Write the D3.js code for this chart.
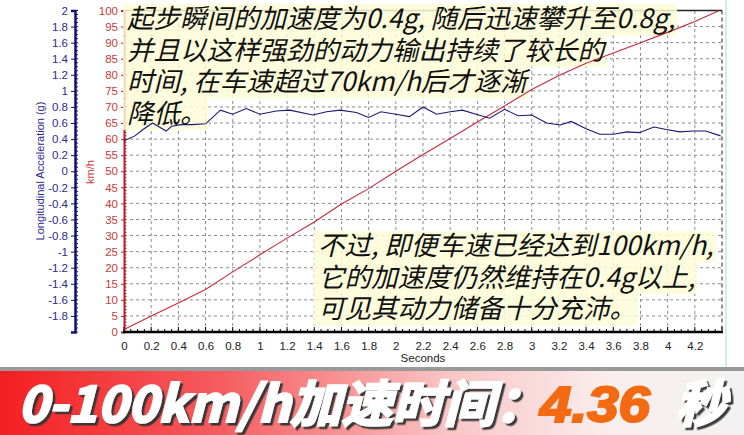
<!DOCTYPE html>
<html>
<head>
<meta charset="utf-8">
<script src="https://cdn.jsdelivr.net/npm/d3@7"></script>
<style>
body { margin: 0; background: #fff; }
svg { display: block; }
</style>
</head>
<body>
<script>
var width = 744;
var height = 435;

// speed trace (km/h)
var speedTime = [0, 0.2, 0.4, 0.6, 0.8, 1.0, 1.2, 1.4, 1.6, 1.8, 2.0, 2.2, 2.4, 2.6, 2.8, 3.0, 3.2, 3.4, 3.6, 3.8, 4.0, 4.2, 4.38];
var speedKmh = [0.8, 5, 9, 13.2, 18.7, 24, 29.2, 34.2, 39.8, 44.6, 50, 55.2, 60.2, 65.3, 70.3, 75.4, 79.8, 83.6, 86.8, 90, 93.2, 96.6, 100];

// longitudinal acceleration trace (g)
var accTime = [0, 0.08, 0.14, 0.21, 0.26, 0.31, 0.35, 0.42, 0.5, 0.6, 0.71, 0.8, 0.9, 1.0, 1.12, 1.22, 1.39, 1.49, 1.59, 1.71, 1.8, 1.89, 2.0, 2.1, 2.2, 2.3, 2.4, 2.49, 2.59, 2.69, 2.8, 2.9, 3.0, 3.11, 3.21, 3.29, 3.4, 3.5, 3.6, 3.7, 3.79, 3.9, 3.99, 4.09, 4.19, 4.28, 4.39];
var accG = [0.38, 0.44, 0.52, 0.6, 0.55, 0.5, 0.56, 0.58, 0.58, 0.59, 0.76, 0.71, 0.78, 0.71, 0.75, 0.76, 0.7, 0.74, 0.76, 0.73, 0.67, 0.74, 0.71, 0.68, 0.8, 0.71, 0.74, 0.76, 0.71, 0.66, 0.77, 0.69, 0.7, 0.6, 0.575, 0.62, 0.53, 0.46, 0.46, 0.49, 0.48, 0.55, 0.52, 0.49, 0.5, 0.5, 0.44];

var timeTicks = [0, 0.2, 0.4, 0.6, 0.8, 1, 1.2, 1.4, 1.6, 1.8, 2, 2.2, 2.4, 2.6, 2.8, 3, 3.2, 3.4, 3.6, 3.8, 4, 4.2];
var speedTicks = [0, 5, 10, 15, 20, 25, 30, 35, 40, 45, 50, 55, 60, 65, 70, 75, 80, 85, 90, 95, 100];
var accTicks = [-1.8, -1.6, -1.4, -1.2, -1, -0.8, -0.6, -0.4, -0.2, 0, 0.2, 0.4, 0.6, 0.8, 1, 1.2, 1.4, 1.6, 1.8, 2];

var noteTop = ["起步瞬间的加速度为0.4g, 随后迅速攀升至0.8g,", "并且以这样强劲的动力输出持续了较长的", "时间, 在车速超过70km/h后才逐渐", "降低。"];
var noteBottom = ["不过, 即便车速已经达到100km/h,", "它的加速度仍然维持在0.4g以上,", "可见其动力储备十分充沛。"];

var bannerText = "0-100km/h加速时间：";
var bannerTime = "4.36";
var bannerUnit = "秒";

var canvas = d3.select("body")
    .append("svg")
    .attr("width", width)
    .attr("height", height);

var defs = canvas.append("defs");

var x = d3.scaleLinear().domain([0, 4.4]).range([124, 722]);
var ySpeed = d3.scaleLinear().domain([0, 100]).range([332, 10.5]);
var yAcc = d3.scaleLinear().domain([-2, 2]).range([332, 10.5]);

var fmt = function(d) { return String(+d.toFixed(1)); };

// grid
canvas.append("g").selectAll("line")
    .data(timeTicks.slice(1))
    .enter().append("line")
    .attr("x1", function(d) { return x(d); })
    .attr("x2", function(d) { return x(d); })
    .attr("y1", ySpeed(0))
    .attr("y2", ySpeed(100))
    .attr("stroke", "#8c8c8c")
    .attr("stroke-dasharray", "3,3");

canvas.append("g").selectAll("line")
    .data(speedTicks.slice(1, -1))
    .enter().append("line")
    .attr("x1", x(0))
    .attr("x2", x(4.4))
    .attr("y1", function(d) { return ySpeed(d); })
    .attr("y2", function(d) { return ySpeed(d); })
    .attr("stroke", "#8c8c8c")
    .attr("stroke-dasharray", "3,3");

canvas.append("line")
    .attr("x1", x(4.4)).attr("x2", x(4.4))
    .attr("y1", ySpeed(100)).attr("y2", ySpeed(0))
    .attr("stroke", "#222")
    .attr("stroke-dasharray", "4,3");

canvas.append("line")
    .attr("x1", x(0)).attr("x2", x(4.4))
    .attr("y1", ySpeed(100)).attr("y2", ySpeed(100))
    .attr("stroke", "#222")
    .attr("stroke-width", 1.5);

canvas.append("line")
    .attr("x1", 726).attr("x2", 726)
    .attr("y1", 0).attr("y2", 368)
    .attr("stroke", "#cdeef2")
    .attr("stroke-width", 2);

// acceleration axis
var accAxis = canvas.append("g")
    .attr("transform", "translate(75,0)")
    .call(d3.axisLeft(yAcc).tickValues(accTicks).tickSize(4).tickPadding(3).tickFormat(fmt));

accAxis.select(".domain").attr("stroke", "#10106e").attr("stroke-width", 2.5);
accAxis.selectAll(".tick line").attr("stroke", "#10106e");
accAxis.selectAll("text")
    .attr("fill", "#2b2b8f")
    .attr("font-family", "Liberation Sans, Arial, sans-serif")
    .attr("font-size", 11.5);

accAxis.selectAll(".minor")
    .data(d3.range(-40, 41).map(function(i) { return i * 0.05; }))
    .enter().append("line")
    .attr("x1", 0).attr("x2", 3)
    .attr("y1", function(d) { return yAcc(d); })
    .attr("y2", function(d) { return yAcc(d); })
    .attr("stroke", "#10106e");

// speed axis
var speedAxis = canvas.append("g")
    .attr("transform", "translate(124,0)")
    .call(d3.axisLeft(ySpeed).tickValues(speedTicks).tickSize(3).tickPadding(3));

speedAxis.select(".domain").attr("stroke", "#b3202a").attr("stroke-width", 2);
speedAxis.selectAll(".tick line").attr("stroke", "#b3202a");
speedAxis.selectAll("text")
    .attr("fill", "#c83a3a")
    .attr("font-family", "Liberation Sans, Arial, sans-serif")
    .attr("font-size", 11.5);

speedAxis.selectAll(".minor")
    .data(d3.range(0, 101))
    .enter().append("line")
    .attr("x1", 0).attr("x2", 2.5)
    .attr("y1", function(d) { return ySpeed(d); })
    .attr("y2", function(d) { return ySpeed(d); })
    .attr("stroke", "#b3202a");

// time axis
var timeAxis = canvas.append("g")
    .attr("transform", "translate(0,332)")
    .call(d3.axisBottom(x).tickValues(timeTicks).tickSize(0).tickPadding(10).tickFormat(fmt));

timeAxis.select(".domain").remove();
timeAxis.selectAll("text")
    .attr("fill", "#222")
    .attr("font-family", "Liberation Sans, Arial, sans-serif")
    .attr("font-size", 11.5);

timeAxis.append("line")
    .attr("x1", x(0) - 1).attr("x2", x(4.4) + 1)
    .attr("stroke", "#000")
    .attr("stroke-width", 2.5);

timeAxis.selectAll(".minor")
    .data(d3.range(0, 89).map(function(i) { return i * 0.05; }))
    .enter().append("line")
    .attr("x1", function(d) { return x(d); })
    .attr("x2", function(d) { return x(d); })
    .attr("y1", 0)
    .attr("y2", function(d, i) { return i % 4 == 0 ? -5 : -3; })
    .attr("stroke", "#000");

// axis titles
canvas.append("text")
    .attr("transform", "translate(44,171) rotate(-90)")
    .attr("text-anchor", "middle")
    .attr("fill", "#2b2b8f")
    .attr("font-family", "Liberation Sans, Arial, sans-serif")
    .attr("font-size", 11)
    .text("Longitudinal Acceleration (g)");

canvas.append("text")
    .attr("transform", "translate(94,172) rotate(-90)")
    .attr("text-anchor", "middle")
    .attr("fill", "#c83a3a")
    .attr("font-family", "Liberation Sans, Arial, sans-serif")
    .attr("font-size", 11)
    .text("km/h");

canvas.append("text")
    .attr("x", (x(0) + x(4.4)) / 2)
    .attr("y", 362)
    .attr("text-anchor", "middle")
    .attr("fill", "#222")
    .attr("font-family", "Liberation Sans, Arial, sans-serif")
    .attr("font-size", 11.5)
    .text("Seconds");

// highlight boxes go under the traces, the words over them
var boxLayer = canvas.append("g");

var speedLine = d3.line()
    .x(function(d) { return x(d[0]); })
    .y(function(d) { return ySpeed(d[1]); });

var accLine = d3.line()
    .x(function(d) { return x(d[0]); })
    .y(function(d) { return yAcc(d[1]); });

canvas.append("path")
    .datum(d3.zip(speedTime, speedKmh))
    .attr("d", speedLine)
    .attr("fill", "none")
    .attr("stroke", "#c62a3c")
    .attr("stroke-width", 1.1);

canvas.append("path")
    .datum(d3.zip(accTime, accG))
    .attr("d", accLine)
    .attr("fill", "none")
    .attr("stroke", "#181878")
    .attr("stroke-width", 1.1);

var textLayer = canvas.append("g");

function note(lines, left, top) {
    lines.forEach(function(line, i) {
        var bg = boxLayer.append("rect");
        var t = textLayer.append("text")
            .attr("x", left)
            .attr("y", top + i * 31.5)
            .attr("fill", "#111")
            .attr("font-family", "Noto Sans CJK SC, sans-serif")
            .attr("font-style", "italic")
            .attr("font-size", 26.5)
            .text(line);
        var w = t.node().getComputedTextLength();
        bg.attr("x", left - 4)
            .attr("y", top + i * 31.5 - 24)
            .attr("width", w + 6)
            .attr("height", 31.5)
            .attr("fill", "#fdfbd6")
            .attr("opacity", 0.85);
    });
}

note(noteTop, 127, 28);
note(noteBottom, 318, 255);

// banner
var grad = defs.append("linearGradient")
    .attr("id", "band")
    .attr("x1", "0%").attr("x2", "100%");
grad.append("stop").attr("offset", "0%").attr("stop-color", "#f41f22");
grad.append("stop").attr("offset", "30%").attr("stop-color", "#f55d60");
grad.append("stop").attr("offset", "60%").attr("stop-color", "#f9c4c4");
grad.append("stop").attr("offset", "82%").attr("stop-color", "#faeeee");
grad.append("stop").attr("offset", "100%").attr("stop-color", "#f2f2f2");

var shadow = defs.append("filter")
    .attr("id", "shade")
    .attr("x", "-10%").attr("y", "-20%")
    .attr("width", "130%").attr("height", "150%");
shadow.append("feDropShadow")
    .attr("dx", 2.5).attr("dy", 2.5)
    .attr("stdDeviation", 0.6)
    .attr("flood-color", "#333")
    .attr("flood-opacity", 0.95);

canvas.append("rect")
    .attr("x", 0).attr("y", 367)
    .attr("width", width).attr("height", 6)
    .attr("fill", "#9a9a9a");

canvas.append("rect")
    .attr("x", 0).attr("y", 371)
    .attr("width", width).attr("height", height - 371)
    .attr("fill", "url(#band)");

function bannerPiece(str, left, len, fill, shaded, family) {
    canvas.append("text")
        .attr("x", left).attr("y", 422)
        .attr("textLength", len)
        .attr("lengthAdjust", "spacingAndGlyphs")
        .attr("font-family", family)
        .attr("font-weight", "bold")
        .attr("font-style", "italic")
        .attr("font-size", 50)
        .attr("fill", fill)
        .attr("stroke", fill)
        .attr("stroke-width", 2.2)
        .attr("filter", shaded ? "url(#shade)" : null)
        .text(str);
}

bannerPiece(bannerText, 18, 528, "#ffffff", true, "Noto Sans CJK SC, sans-serif");
bannerPiece(bannerTime, 540, 110, "#f26a12", false, "Liberation Sans, Arial, sans-serif");
bannerPiece(bannerUnit, 676, 50, "#ffffff", true, "Noto Sans CJK SC, sans-serif");
</script>
</body>
</html>
